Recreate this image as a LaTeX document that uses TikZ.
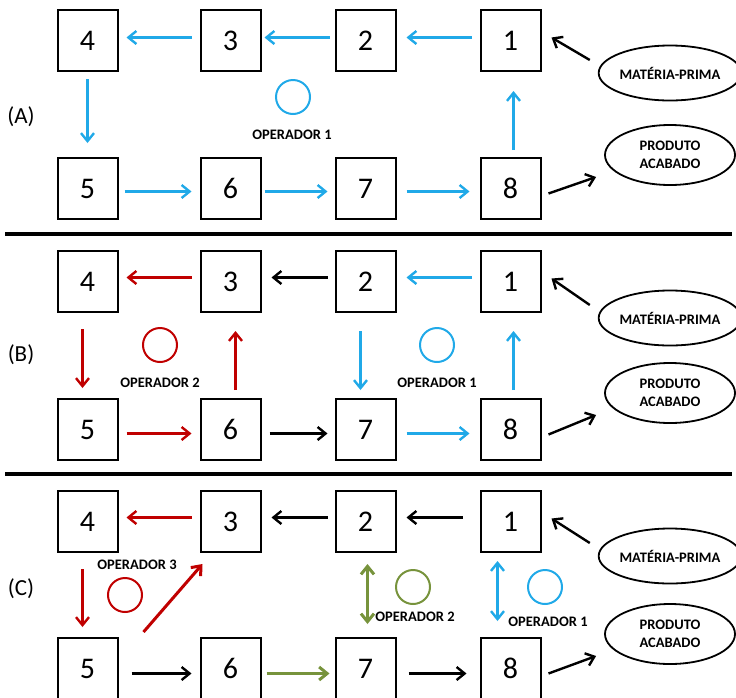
\documentclass[tikz,border=0pt]{standalone}
\usepackage{fontspec}
\setmainfont{Carlito}
\usetikzlibrary{arrows.meta,calc,shapes.geometric}
\definecolor{opblue}{HTML}{20A9E8}
\definecolor{opred}{HTML}{C00000}
\definecolor{opgreen}{HTML}{77933C}
\begin{document}
\begin{tikzpicture}[x=1pt,y=-1pt,
  stn/.style={draw, line width=2pt, minimum width=60pt, minimum height=61pt,
    inner sep=0pt, font=\fontsize{30}{30}\selectfont},
  stock/.style={draw, ellipse, line width=1.8pt, minimum width=130pt,
    minimum height=57pt, inner sep=0pt, align=center,
    font=\bfseries\fontsize{14.5}{18}\selectfont},
  flow/.style={line width=2.4pt, -{Straight Barb[length=8pt,width=13pt]},
    shorten <=7pt, shorten >=7pt},
  both/.style={line width=2.4pt, {Straight Barb[length=8pt,width=13pt]}-{Straight Barb[length=8pt,width=13pt]}},
  heavy/.style={line width=3pt},
  oper/.style={circle, draw, line width=2pt, minimum size=34pt, inner sep=0pt},
  opname/.style={font=\bfseries\fontsize{14.5}{14.5}\selectfont},
  panel/.style={font=\fontsize{23}{23}\selectfont},
  rule/.style={line width=4pt}
]
\useasboundingbox (0,0) rectangle (736,697);

% workstations and stock ellipses for the three layouts
\foreach \p/\yt/\yb/\ym/\yp in {A/40.5/188.5/73/155, B/281.5/429.5/318/393, C/521.5/668.5/556/634} {
  \node[stn] (\p4) at (87.5,\yt) {4};
  \node[stn] (\p3) at (230.5,\yt) {3};
  \node[stn] (\p2) at (365.5,\yt) {2};
  \node[stn] (\p1) at (510.5,\yt) {1};
  \node[stn] (\p5) at (87.5,\yb) {5};
  \node[stn] (\p6) at (230.5,\yb) {6};
  \node[stn] (\p7) at (365.5,\yb) {7};
  \node[stn] (\p8) at (510.5,\yb) {8};
  \node[stock, minimum height=55pt] (\p M) at (670,\ym) {MATÉRIA-PRIMA};
  \node[stock, minimum height=60pt] (\p P) at (670,\yp) {PRODUTO\\ACABADO};
  \draw[flow, shorten <=0pt, shorten >=0pt] ($(\p M.west)+(-8,-13)$) -- ($(\p1.east)+(10,-3)$);
  \draw[flow, shorten <=0pt, shorten >=0pt] ($(\p8.east)+(7,5)$) -- ($(\p P.west)+(-8,22)$);
}

% section rules
\draw[rule] (5,234) -- (732,234);
\draw[rule] (5,474) -- (732,474);

% layout labels
\node[panel] (la) at (21,117) {(A)};
\node[panel] (lb) at (21,355) {(B)};
\node[panel] (lc) at (21,589) {(C)};

% ---- layout A: one operator
\draw[flow, opblue, shorten <=8pt, shorten >=8pt] ([yshift=3pt]A3.west) -- ([yshift=3pt]A4.east);
\draw[flow, opblue, shorten <=5pt, shorten >=3pt] ([yshift=3pt]A2.west) -- ([yshift=3pt]A3.east);
\draw[flow, opblue, shorten <=8pt, shorten >=10pt] ([yshift=3pt]A1.west) -- ([yshift=3pt]A2.east);
\draw[flow, opblue, shorten <=7pt, shorten >=14pt] (A4.south) -- (A5.north);
\draw[flow, opblue, shorten <=6pt, shorten >=8pt] ([yshift=-3pt]A5.east) -- ([yshift=-3pt]A6.west);
\draw[flow, opblue, shorten <=3pt, shorten >=7pt] ([yshift=-3pt]A6.east) -- ([yshift=-3pt]A7.west);
\draw[flow, opblue, shorten <=10pt, shorten >=10pt] ([yshift=-3pt]A7.east) -- ([yshift=-3pt]A8.west);
\draw[flow, opblue, shorten <=7pt, shorten >=19pt] ([xshift=3pt]A8.north) -- ([xshift=3pt]A1.south);
\node[oper, opblue] (oa1) at (293,97) {};
\node[opname] (na1) at (292,135) {OPERADOR 1};

% ---- layout B: two operators
\draw[flow, opred, shorten <=8pt, shorten >=8pt] ([yshift=4pt]B3.west) -- ([yshift=4pt]B4.east);
\draw[flow, shorten <=7pt, shorten >=10pt] ([yshift=4pt]B2.west) -- ([yshift=4pt]B3.east);
\draw[flow, opblue, shorten <=8pt, shorten >=10pt] ([yshift=4pt]B1.west) -- ([yshift=4pt]B2.east);
\draw[flow, opred, shorten <=16pt, shorten >=10pt] ([xshift=-5pt]B4.south) -- ([xshift=-5pt]B5.north);
\draw[flow, opred, shorten <=8pt, shorten >=18pt] ([xshift=5pt]B6.north) -- ([xshift=5pt]B3.south);
\draw[flow, opblue, shorten <=18pt, shorten >=8pt] ([xshift=-5pt]B2.south) -- ([xshift=-5pt]B7.north);
\draw[flow, opblue, shorten <=8pt, shorten >=18pt] ([xshift=3pt]B8.north) -- ([xshift=3pt]B1.south);
\draw[flow, opred, shorten <=8pt, shorten >=8pt] ([yshift=-4pt]B5.east) -- ([yshift=-4pt]B6.west);
\draw[flow, shorten <=8pt, shorten >=7pt] ([yshift=-4pt]B6.east) -- ([yshift=-4pt]B7.west);
\draw[flow, opblue, shorten <=10pt, shorten >=10pt] ([yshift=-4pt]B7.east) -- ([yshift=-4pt]B8.west);
\node[oper, opred] (ob2) at (160,345) {};
\node[opname] (nb2) at (160,383) {OPERADOR 2};
\node[oper, opblue] (ob1) at (437,345) {};
\node[opname] (nb1) at (437,383) {OPERADOR 1};

% ---- layout C: three operators
\draw[flow, opred, shorten <=8pt, shorten >=8pt] ([yshift=4pt]C3.west) -- ([yshift=4pt]C4.east);
\draw[flow, shorten <=7pt, shorten >=10pt] ([yshift=4pt]C2.west) -- ([yshift=4pt]C3.east);
\draw[flow, shorten <=17pt, shorten >=10pt] ([yshift=4pt]C1.west) -- ([yshift=4pt]C2.east);
\draw[flow, opred, shorten <=16pt, shorten >=10pt] ([xshift=-5pt]C4.south) -- ([xshift=-5pt]C5.north);
\draw[flow, opred, heavy, shorten <=0pt, shorten >=0pt] ($(C5.north east)+(25,-5)$) -- ($(C3.south west)+(3,11)$);
\draw[both, opgreen, heavy] ($(C2.south)+(2,11)$) -- ($(C7.north)+(2,-13)$);
\draw[both, opblue] ($(C1.south)+(-13,8)$) -- ($(C8.north)+(-13,-16)$);
\draw[flow, shorten <=13pt, shorten >=8pt] ([yshift=-5pt]C5.east) -- ([yshift=-5pt]C6.west);
\draw[flow, opgreen, heavy, shorten <=5pt, shorten >=5pt] ([yshift=-5pt]C6.east) -- ([yshift=-5pt]C7.west);
\draw[flow, shorten <=12pt, shorten >=13pt] ([yshift=-5pt]C7.east) -- ([yshift=-5pt]C8.west);
\node[oper, opred] (oc3) at (125,595) {};
\node[opname] (nc3) at (137,565) {OPERADOR 3};
\node[oper, opgreen] (oc2) at (413,587) {};
\node[opname] (nc2) at (415,617) {OPERADOR 2};
\node[oper, opblue] (oc1) at (545,587) {};
\node[opname] (nc1) at (548,622) {OPERADOR 1};
\end{tikzpicture}
\end{document}
